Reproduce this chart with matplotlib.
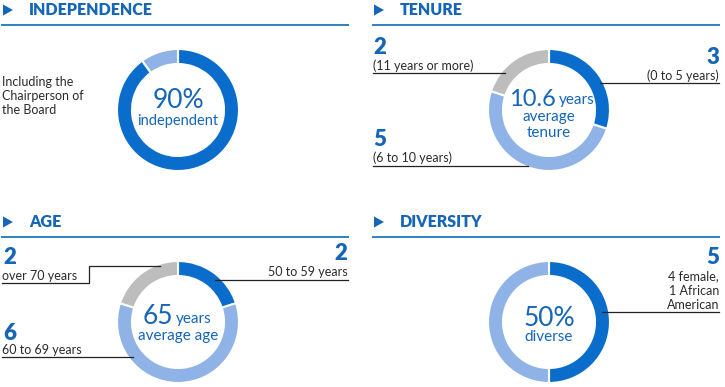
import matplotlib.pyplot as plt
from matplotlib.patches import Polygon

plt.rcParams['font.family'] = ['Lato', 'DejaVu Sans']

# Data
indep_values = [90, 10]
tenure_values = [3, 5, 2]          # 0-5, 6-10, 11+
age_values = [2, 6, 2]             # 50-59, 60-69, over 70
diversity_values = [5, 5]          # diverse, other

titles = ["INDEPENDENCE", "TENURE", "AGE", "DIVERSITY"]

DARK = "#0a6dcc"
LIGHT = "#8fb3e6"
GRAY = "#bdbdbd"
HEAD = "#1565b8"
RULE = "#2f80c2"
TXT = "#2b2b2b"

W, H = 725, 387
fig = plt.figure(figsize=(W / 100, H / 100), dpi=100)
ax = fig.add_axes([0, 0, 1, 1])

def Y(y):
    return H - y

def donut(values, colors, cx, cy):
    ax.pie(values, colors=colors, startangle=90, counterclock=False,
           center=(cx, Y(cy)), radius=61,
           wedgeprops=dict(width=15, edgecolor="white", linewidth=1.5))

def header(x0, x1, y, title):
    ax.add_patch(Polygon([[x0 + 1, Y(y - 5.5)], [x0 + 1, Y(y + 5.5)], [x0 + 11, Y(y)]],
                         closed=True, color=HEAD, lw=0))
    ax.text(x0 + 27, Y(y), title, color=HEAD, fontsize=11.5, fontweight="heavy",
            va="center", ha="left")
    ax.plot([x0, x1], [Y(y + 15), Y(y + 15)], color=RULE, lw=1.4)

def line(xs, ys):
    ax.plot(xs, [Y(v) for v in ys], color="#222222", lw=0.9)

def big(x, y, s, ha="left"):
    ax.text(x, Y(y), s, color=HEAD, fontsize=16, fontweight="heavy",
            ha=ha, va="center")

def small(x, y, s, ha="left", size=9):
    ax.text(x, Y(y), s, color=TXT, fontsize=size, ha=ha, va="center")

# Panel 1: independence
header(2, 348, 10, titles[0])
donut(indep_values, [DARK, LIGHT], 178, 110)
ax.text(2, Y(76), "Including the\nChairperson of\nthe Board", color=TXT,
        fontsize=9, ha="left", va="top", linespacing=1.2)
ax.text(178, Y(101), "%d%%" % indep_values[0], color=HEAD, fontsize=19,
        ha="center", va="center")
ax.text(178, Y(121), "independent", color=HEAD, fontsize=10.5,
        ha="center", va="center")

# Panel 2: tenure
header(373, 719, 10, titles[1])
donut(tenure_values, [DARK, LIGHT, GRAY], 549, 110)
big(373, 47, str(tenure_values[2]))
small(373, 66, "(11 years or more)")
line([373, 505], [73, 73])
big(719, 57, str(tenure_values[0]), ha="right")
small(719, 76, "(0 to 5 years)", ha="right")
line([600, 719], [83, 83])
big(373, 140, str(tenure_values[1]))
small(373, 158, "(6 to 10 years)")
line([373, 528], [166, 166])
ax.text(556, Y(99), "10.6", color=HEAD, fontsize=17, ha="right", va="center")
ax.text(559, Y(100), "years", color=HEAD, fontsize=11, ha="left", va="center")
ax.text(549, Y(117), "average", color=HEAD, fontsize=11, ha="center", va="center")
ax.text(549, Y(133), "tenure", color=HEAD, fontsize=11, ha="center", va="center")

# Panel 3: age
header(2, 348, 222, titles[2])
donut(age_values, [DARK, LIGHT, GRAY], 178, 322)
big(3, 257, str(age_values[2]))
small(2, 276, "over 70 years")
line([2, 89, 89, 160], [283, 283, 266, 266])
big(347, 254, str(age_values[0]), ha="right")
small(348, 272, "50 to 59 years", ha="right")
line([215, 348], [280, 280])
big(3, 333, str(age_values[1]))
small(2, 350, "60 to 69 years")
line([2, 133], [357, 357])
ax.text(173, Y(316), "65", color=HEAD, fontsize=19, ha="right", va="center")
ax.text(176, Y(319), "years", color=HEAD, fontsize=11, ha="left", va="center")
ax.text(178, Y(336), "average age", color=HEAD, fontsize=11, ha="center", va="center")

# Panel 4: diversity
header(373, 719, 222, titles[3])
donut(diversity_values, [DARK, LIGHT], 549, 322)
big(719, 258, str(diversity_values[0]), ha="right")
small(719, 276, "4 female,", ha="right")
small(669, 291, "1 African", ha="left")
small(719, 305, "American", ha="right")
line([602, 719], [312, 312])
ax.text(549, Y(318), "%d%%" % (100 * diversity_values[0] // sum(diversity_values)),
        color=HEAD, fontsize=19, ha="center", va="center")
ax.text(549, Y(337), "diverse", color=HEAD, fontsize=11, ha="center", va="center")

ax.set_xlim(0, W)
ax.set_ylim(0, H)
ax.set_aspect("auto")
ax.axis("off")

fig.savefig("out.png", dpi=100)
